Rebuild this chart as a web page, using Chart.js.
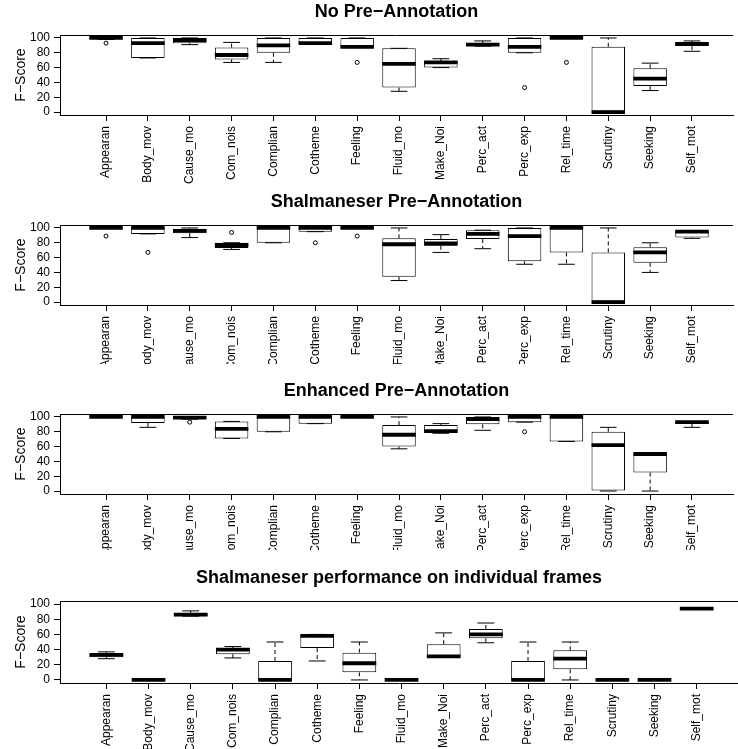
<!DOCTYPE html>
<html>
<head>
<meta charset="utf-8">
<script src="https://cdn.jsdelivr.net/npm/chart.js@4.4.1/dist/chart.umd.min.js"></script>
<style>
  html, body { margin: 0; padding: 0; background: #fff; overflow: hidden; }
  .panel { position: absolute; left: 0; width: 738px; }
</style>
</head>
<body>
<div class="panel" id="p0"><canvas id="c0"></canvas></div>
<div class="panel" id="p1"><canvas id="c1"></canvas></div>
<div class="panel" id="p2"><canvas id="c2"></canvas></div>
<div class="panel" id="p3"><canvas id="c3"></canvas></div>
<script>
// frame categories
const categories = ['Appearan', 'Body_mov', 'Cause_mo', 'Com_nois', 'Complian', 'Cotheme', 'Feeling',
  'Fluid_mo', 'Make_Noi', 'Perc_act', 'Perc_exp', 'Rel_time', 'Scrutiny', 'Seeking', 'Self_mot'];
const yTickValues = [0, 20, 40, 60, 80, 100];
const panelTitles = ['No Pre\u2212Annotation', 'Shalmaneser Pre\u2212Annotation',
  'Enhanced Pre\u2212Annotation', 'Shalmaneser performance on individual frames'];

// box stats per frame: [lower whisker, Q1, median, Q3, upper whisker]
const noPreStats = [
  [98, 99, 100, 100, 100], [73, 73, 93, 100, 100], [91, 93, 97, 100, 100],
  [67, 71, 77, 87, 94], [67, 80, 90, 100, 100], [93, 93, 93, 100, 100],
  [88, 88, 88, 100, 100], [28, 33, 65, 86, 86], [60, 60, 67, 69, 72],
  [89, 89, 91, 93, 96], [80, 80, 88, 100, 100], [100, 100, 100, 100, 100],
  [0, 0, 0, 88, 100], [29, 35, 45, 59, 66], [82, 89, 92, 93, 96]
];
const noPreOutliers = [['Appearan', 93], ['Feeling', 67], ['Perc_exp', 33], ['Rel_time', 67]];

const shalPreStats = [
  [100, 100, 100, 100, 100], [92, 92, 100, 100, 100], [87, 93, 96, 99, 100],
  [71, 73, 77, 80, 80], [80, 80, 100, 100, 100], [95, 95, 100, 100, 100],
  [100, 100, 100, 100, 100], [29, 34, 78, 86, 100], [67, 76, 79, 85, 91],
  [72, 85, 92, 97, 97], [51, 55, 89, 100, 100], [51, 67, 100, 100, 100],
  [0, 0, 0, 67, 100], [40, 53, 67, 74, 80], [86, 87, 95, 96, 96]
];
const shalPreOutliers = [['Appearan', 89], ['Body_mov', 67], ['Com_nois', 94], ['Cotheme', 80], ['Feeling', 89]];

const enhancedStats = [
  [100, 100, 100, 100, 100], [86, 92, 100, 100, 100], [97, 98, 99, 100, 100],
  [71, 71, 84, 94, 94], [80, 80, 100, 100, 100], [91, 91, 100, 100, 100],
  [100, 100, 100, 100, 100], [57, 60, 76, 89, 100], [78, 80, 81, 89, 91],
  [82, 90, 97, 100, 100], [93, 93, 100, 100, 100], [67, 67, 100, 100, 100],
  [0, 0, 62, 80, 86], [0, 25, 50, 50, 50], [86, 91, 93, 94, 94]
];
const enhancedOutliers = [['Cause_mo', 93], ['Perc_exp', 80]];

const individualStats = [
  [28, 30, 33, 35, 37], [0, 0, 0, 0, 0], [84, 84, 86, 88, 91],
  [29, 34, 40, 42, 44], [0, 0, 0, 25, 50], [25, 42, 58, 60, 60],
  [0, 10, 22, 36, 50], [0, 0, 0, 0, 0], [31, 31, 31, 47, 62],
  [49, 55, 60, 67, 75], [0, 0, 0, 25, 50], [0, 14, 28, 39, 50],
  [0, 0, 0, 0, 0], [0, 0, 0, 0, 0], [93, 94, 94, 95, 95]
];
const individualOutliers = [];

// panel placement (px): div top, canvas height, x axis band height
const panels = [
  { stats: noPreStats, outliers: noPreOutliers, top: 0, height: 189, axisH: 74 },
  { stats: shalPreStats, outliers: shalPreOutliers, top: 190, height: 174, axisH: 59 },
  { stats: enhancedStats, outliers: enhancedOutliers, top: 379, height: 171, axisH: 56 },
  { stats: individualStats, outliers: individualOutliers, top: 566, height: 183, axisH: 66 }
];

const BOX_HALF = 0.4;    // boxwex 0.8
const STAPLE_HALF = 0.2; // staple half the box width

Chart.defaults.font.family = '"Liberation Sans", Arial, Helvetica, sans-serif';
Chart.defaults.color = '#000';

// top edge of the plot frame (right edge is cut off in the original)
const framePlugin = {
  id: 'frame',
  afterDatasetsDraw(chart) {
    const { ctx, chartArea: a } = chart;
    ctx.save();
    ctx.strokeStyle = '#000';
    ctx.lineWidth = 1;
    ctx.beginPath();
    ctx.moveTo(a.left, Math.round(a.top) + 0.5);
    ctx.lineTo(a.right, Math.round(a.top) + 0.5);
    ctx.stroke();
    ctx.restore();
  }
};

function buildDatasets(stats, outliers) {
  const boxes = [], medians = [], whiskers = [], staples = [], points = [];
  stats.forEach((s, i) => {
    const x = i + 1;
    const [lo, q1, med, q3, hi] = s;
    boxes.push({ x: x, y: [q1, q3] });
    medians.push({ x: x - BOX_HALF, y: med }, { x: x + BOX_HALF, y: med }, { x: x, y: null });
    whiskers.push({ x: x, y: q3 }, { x: x, y: hi }, { x: x, y: null });
    whiskers.push({ x: x, y: q1 }, { x: x, y: lo }, { x: x, y: null });
    staples.push({ x: x - STAPLE_HALF, y: hi }, { x: x + STAPLE_HALF, y: hi }, { x: x, y: null });
    staples.push({ x: x - STAPLE_HALF, y: lo }, { x: x + STAPLE_HALF, y: lo }, { x: x, y: null });
  });
  outliers.forEach(o => points.push({ x: categories.indexOf(o[0]) + 1, y: o[1] }));

  const seg = { type: 'line', pointRadius: 0, fill: false, tension: 0, spanGaps: false, borderColor: '#000' };
  return [
    Object.assign({}, seg, { data: medians, borderWidth: 3.8, borderCapStyle: 'butt' }),
    { type: 'line', data: points, showLine: false, pointRadius: 2, pointBorderWidth: 1,
      pointBorderColor: '#000', pointBackgroundColor: '#fff', borderColor: '#000' },
    Object.assign({}, seg, { data: staples, borderWidth: 1 }),
    Object.assign({}, seg, { data: whiskers, borderWidth: 1, borderDash: [4, 3] }),
    { type: 'bar', data: boxes, backgroundColor: '#fff', borderColor: '#000', borderWidth: 1,
      borderSkipped: false, categoryPercentage: 1, barPercentage: 0.8 }
  ];
}

panels.forEach((p, k) => {
  const div = document.getElementById('p' + k);
  div.style.top = p.top + 'px';
  div.style.height = p.height + 'px';
  const canvas = document.getElementById('c' + k);
  canvas.width = 738;
  canvas.height = p.height;

  new Chart(canvas, {
    type: 'bar',
    data: { datasets: buildDatasets(p.stats, p.outliers) },
    plugins: [framePlugin],
    options: {
      responsive: false,
      animation: false,
      devicePixelRatio: 1,
      layout: { padding: 0 },
      plugins: {
        legend: { display: false },
        tooltip: { enabled: false },
        title: {
          display: true,
          text: panelTitles[k],
          fullSize: false,
          color: '#000',
          font: { size: 18, weight: 'bold' },
          padding: { top: 1.5, bottom: 11.9 }
        }
      },
      scales: {
        x: {
          type: 'linear',
          min: -0.1,
          max: 15.98,
          offset: false,
          afterBuildTicks: scale => { scale.ticks = categories.map((c, i) => ({ value: i + 1 })); },
          afterFit: scale => { scale.height = p.axisH; },
          ticks: {
            autoSkip: false,
            minRotation: 90,
            maxRotation: 90,
            padding: 5,
            font: { size: 12 },
            callback: v => categories[v - 1]
          },
          grid: { offset: false, drawOnChartArea: false, drawTicks: true, tickLength: 6, color: '#000' },
          border: { display: true, color: '#000', width: 1 }
        },
        y: {
          type: 'linear',
          min: -4,
          max: 104,
          afterBuildTicks: scale => { scale.ticks = yTickValues.map(v => ({ value: v })); },
          afterFit: scale => { scale.width = 60; },
          ticks: { autoSkip: false, padding: 4, font: { size: 12 } },
          grid: { drawOnChartArea: false, drawTicks: true, tickLength: 6, color: '#000' },
          border: { display: true, color: '#000', width: 1 },
          title: {
            display: true,
            text: 'F\u2212Score',
            font: { size: 14 },
            padding: { top: 12.5, bottom: 0 }
          }
        }
      }
    }
  });
});
</script>
</body>
</html>
